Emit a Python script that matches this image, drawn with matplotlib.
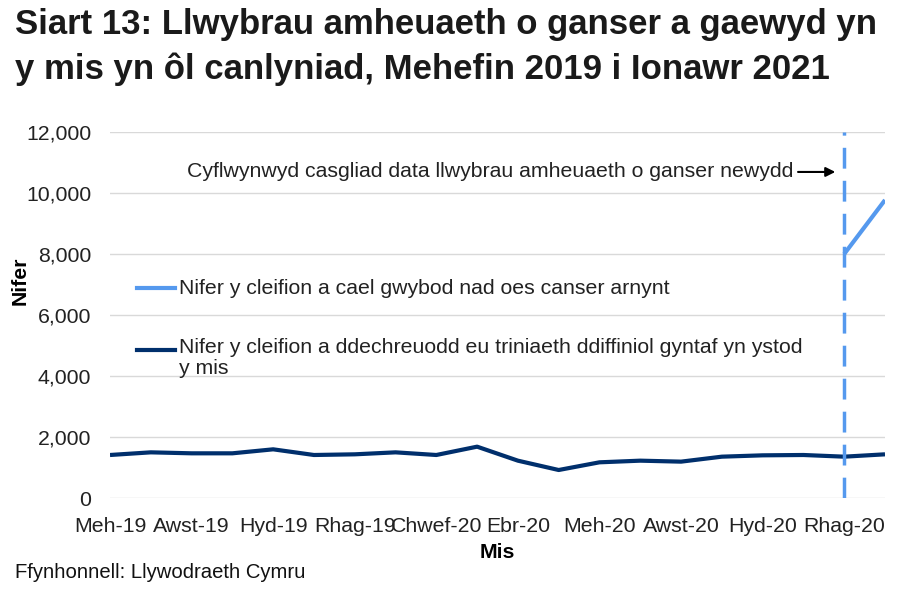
import matplotlib.pyplot as plt
import numpy as np

plt.rcParams['font.family'] = ['Liberation Sans', 'DejaVu Sans']

months = ['Meh-19', 'Gorff-19', 'Awst-19', 'Medi-19', 'Hyd-19', 'Tach-19', 'Rhag-19',
          'Ion-20', 'Chwef-20', 'Maw-20', 'Ebr-20', 'Mai-20', 'Meh-20', 'Gorff-20',
          'Awst-20', 'Medi-20', 'Hyd-20', 'Tach-20', 'Rhag-20', 'Ion-21']
treated = [1410, 1497, 1465, 1465, 1596, 1410, 1432, 1497, 1410, 1683,
           1224, 918, 1170, 1224, 1192, 1355, 1399, 1410, 1355, 1432]
no_cancer_months = ['Rhag-20', 'Ion-21']
no_cancer = [8000, 9770]

label_light = 'Nifer y cleifion a cael gwybod nad oes canser arnynt'
label_dark = 'Nifer y cleifion a ddechreuodd eu triniaeth ddiffiniol gyntaf yn ystod\ny mis'
note = 'Cyflwynwyd casgliad data llwybrau amheuaeth o ganser newydd'

light = '#5599ee'
dark = '#002f6c'
fs = 15.3

fig = plt.figure(figsize=(9.07, 5.94), dpi=100)
ax = fig.add_axes([110 / 907, 1 - 498 / 594, 775 / 907, 366 / 594])

x = np.arange(len(months))
x_nc = [months.index(m) for m in no_cancer_months]

ax.plot(x, treated, color=dark, lw=3, solid_capstyle='butt')
ax.plot(x_nc, no_cancer, color=light, lw=3, solid_capstyle='butt')
ax.axvline(months.index('Rhag-20'), color=light, lw=2.5, dashes=(6, 3.5))

ax.set_xlim(0, len(months) - 1)
ax.set_ylim(0, 12000)
ax.set_yticks(np.arange(0, 12001, 2000))
ax.set_yticklabels([f'{v:,}' for v in range(0, 12001, 2000)])
ax.set_xticks(x[::2])
ax.set_xticklabels(months[::2])
ax.tick_params(length=0, labelsize=fs, colors='#222222')
ax.tick_params(axis='x', pad=14)
ax.tick_params(axis='y', pad=13.5)
ax.grid(axis='y', color='#d9d9d9', lw=1)
ax.set_axisbelow(True)
for s in ax.spines.values():
    s.set_visible(False)

fig.text(20 / 907, 1 - 281 / 594, 'Nifer', fontsize=fs, fontweight='bold',
         rotation=90, ha='center', va='center')
fig.text(497 / 907, 1 - 553 / 594, 'Mis', fontsize=fs, fontweight='bold',
         ha='center', va='center')

# legend drawn inside the plot
ax.plot([0.66, 1.6], [6885, 6885], color=light, lw=3)
ax.text(1.68, 6885, label_light, fontsize=fs, va='center', color='#222222')
ax.plot([0.66, 1.6], [4850, 4850], color=dark, lw=3)
ax.text(1.68, 5230, label_dark, fontsize=fs, va='top', color='#222222', linespacing=1.1)

ax.annotate('', xy=(17.85, 10690), xytext=(16.8, 10690),
            arrowprops=dict(arrowstyle='-|>', color='black', lw=1.5, mutation_scale=14))
ax.text(16.75, 10690, note, fontsize=fs, ha='right', va='center', color='#222222')

fig.text(15 / 907, 1 - 8 / 594,
         'Siart 13: Llwybrau amheuaeth o ganser a gaewyd yn\ny mis yn ôl canlyniad, Mehefin 2019 i Ionawr 2021',
         fontsize=25, fontweight='bold', va='top', ha='left', color='#1a1a1a', linespacing=1.45)
fig.text(15 / 907, 1 - 572 / 594, 'Ffynhonnell: Llywodraeth Cymru', fontsize=14.6,
         va='center', color='#111111')

fig.savefig('out.png', dpi=100)
